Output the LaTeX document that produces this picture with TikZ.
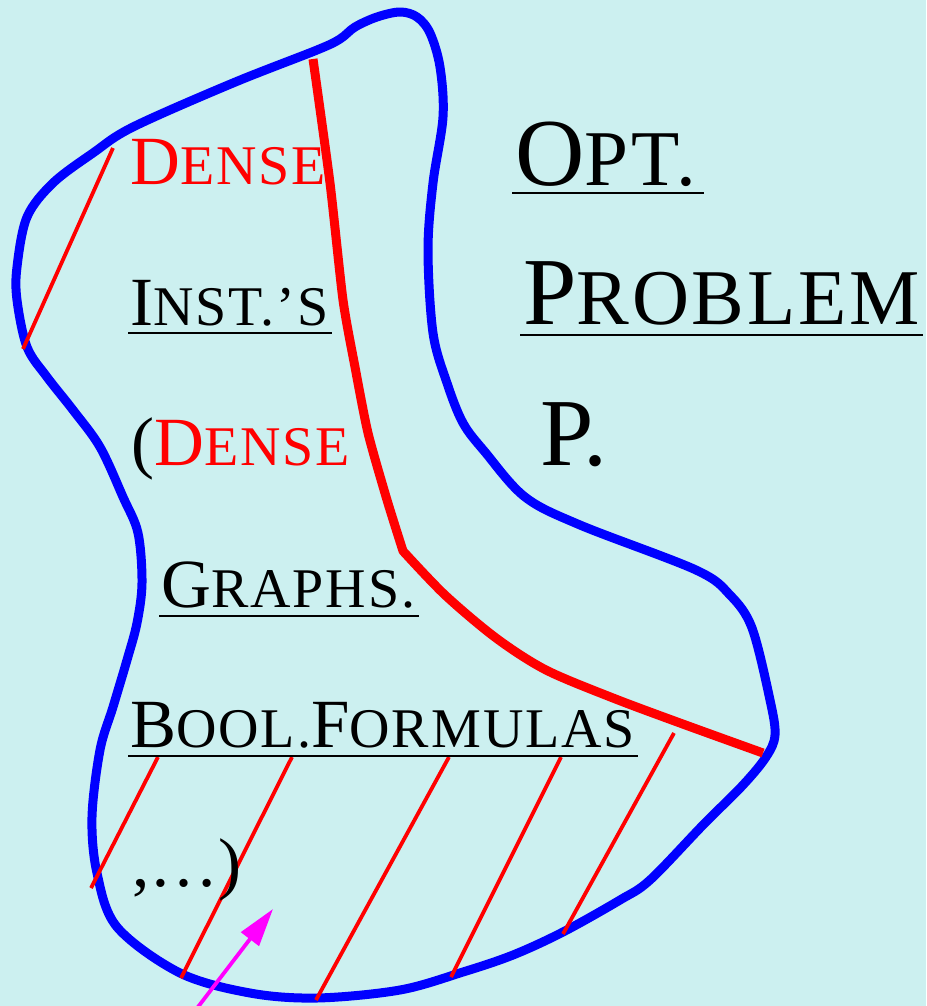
\documentclass[tikz,border=0pt]{standalone}
\usepackage{fontspec}
\setmainfont{Liberation Serif}
\newfontfamily\scspaced[LetterSpace=3.5, Ligatures=TeX]{Liberation Serif}
\usetikzlibrary{arrows.meta}
\definecolor{bgcyan}{RGB}{204,240,240}
\definecolor{pointer}{RGB}{255,0,255}
\newcommand\lbig{\fontsize{69}{80}\selectfont}
\newcommand\lsmall{\scspaced\fontsize{56}{66}\selectfont}
\newcommand\rbig{\fontsize{96}{110}\selectfont}
\newcommand\rsmall{\scspaced\fontsize{79}{92}\selectfont}
\begin{document}
\begin{tikzpicture}[x=1pt, y=-1pt, line join=round,
    word/.style={anchor=base west, inner sep=0pt},
    uline/.style={line width=2.6pt},
    hatch/.style={red, line width=3.8pt},
    rim/.style={blue, line width=9pt},
    cut/.style={red, line width=9pt}]
  \useasboundingbox (0,0) rectangle (926,1006);
  \fill[bgcyan] (0,0) rectangle (926,1006);
  \clip (0,0) rectangle (926,1006);
  % outline of the problem
  \draw[rim] plot[smooth cycle, tension=0.55] coordinates {
    (400,12) (417,17) (430,33) (440,67) (443,117) (433,183) (428,250)
    (433,333) (447,383) (463,423) (485,452) (525,497) (580,525) (696,570)
    (730,595) (752,628) (770,700) (775,735) (766,757) (743,785) (703,825)
    (650,880) (620,900) (563,932) (513,955) (463,972) (400,990) (317,998)
    (250,993) (180,973) (117,927) (97,873) (92,817) (100,750) (113,707)
    (127,660) (137,623) (142,583) (138,533) (123,497) (100,447) (73,410)
    (47,377) (27,347) (17,300) (17,267) (27,217) (53,183) (93,153)
    (133,127) (233,83) (317,50) (340,39) (355,27) (377,17)};
  % dense part
  \draw[cut] plot[smooth, tension=0.4] coordinates {(313,59) (330,183) (343,300) (355,367) (368,433) (387,500) (403,551)}
    -- plot[smooth, tension=0.5] coordinates {(403,551) (445,595) (496,638) (546,670) (613,698) (680,723) (763,753)};
  % hatching
  \draw[hatch] (113,148) -- (23,349);
  \draw[hatch] (158,757) -- (91,888);
  \draw[hatch] (292,757) -- (181,978);
  \draw[hatch] (449,757) -- (316,1000);
  \draw[hatch] (561,757) -- (451,977);
  \draw[hatch] (674,733) -- (563,934);
  % labels
  \node[word, red] (dense) at (130,184) {\lbig D\lsmall ENSE};
  \node[word] (inst) at (130,325) {\lbig I\lsmall NST.’S};
  \node[word] (dense2) at (131,465) {\lbig (\textcolor{red}{D\lsmall ENSE}};
  \node[word] (graphs) at (161,607) {\lbig G\lsmall RAPHS.};
  \node[word] (bool) at (130,747) {\lbig B\lsmall OOL.\lbig F\lsmall ORMULAS};
  \node[word] (etc) at (132,886) {\lbig ,\dots)};
  \node[word] (opt) at (515,185) {\rbig O\rsmall PT.};
  \node[word] (problem) at (523,324) {\rbig P\rsmall ROBLEM};
  \node[word] (pp) at (540,465) {\rbig P.};
  \draw[uline] ([shift={(-2,8)}]inst.base west) -- ([shift={(3,8)}]inst.base east);
  \draw[uline] ([shift={(-2,9)}]graphs.base west) -- ([shift={(3,9)}]graphs.base east);
  \draw[uline] ([shift={(-2,9)}]bool.base west) -- ([shift={(3,9)}]bool.base east);
  \draw[uline] ([shift={(-3,8)}]opt.base west) -- ([shift={(8,8)}]opt.base east);
  \draw[uline] ([shift={(-3,11)}]problem.base west) -- ([shift={(3,11)}]problem.base east);
  % pointer
  \coordinate (tail) at (188,1020);
  \coordinate (tip) at (273,909);
  \draw[pointer, line width=3.8pt, -{Triangle[length=38pt, width=22pt]}] (tail) -- (tip);
\end{tikzpicture}
\end{document}
